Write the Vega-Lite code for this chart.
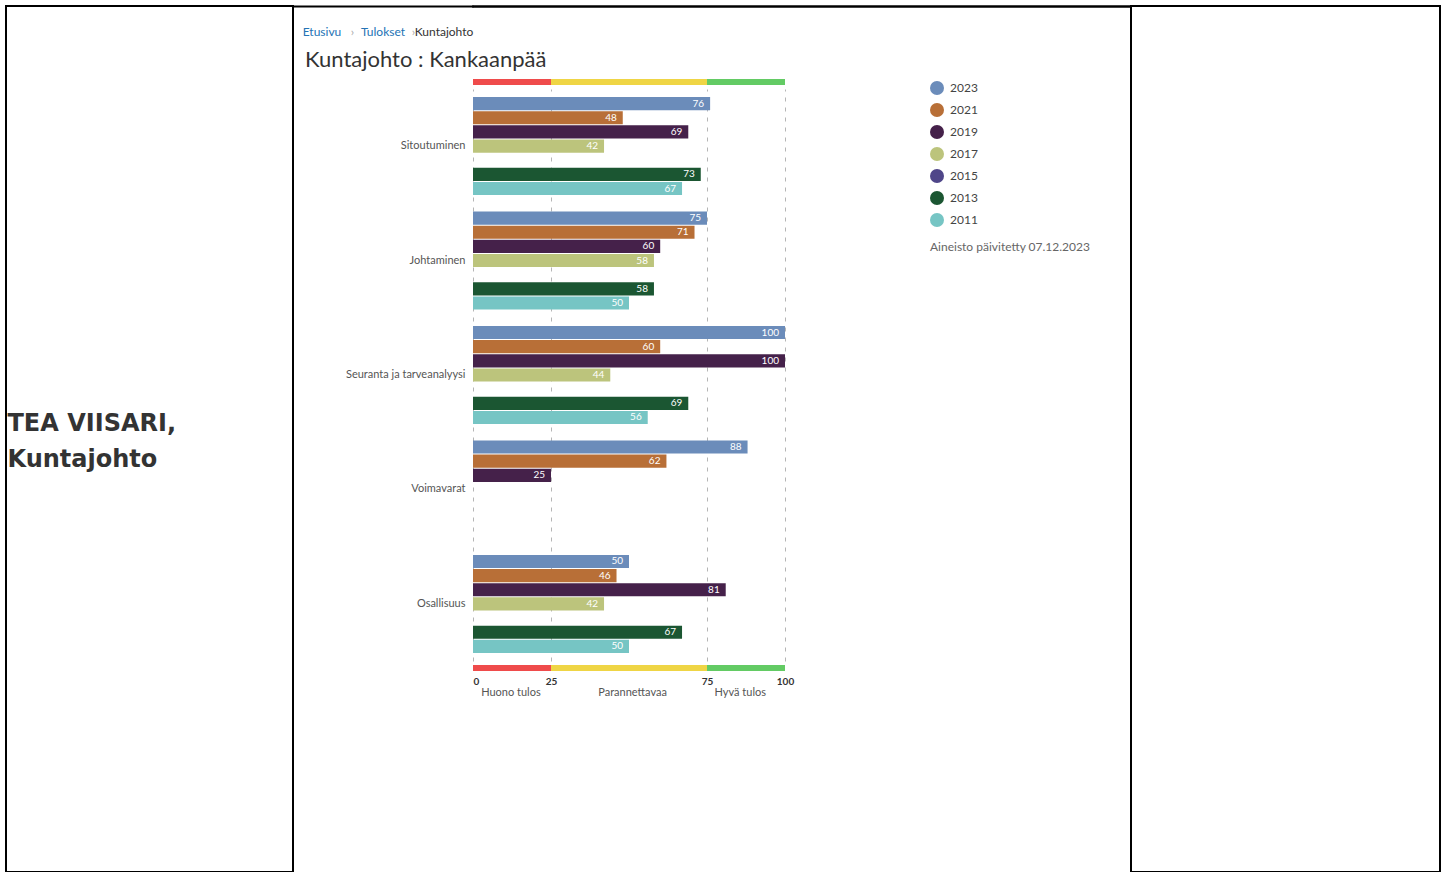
{
  "$schema": "https://vega.github.io/schema/vega-lite/v6.json",
  "padding": {"left": 5, "top": 5, "right": 0, "bottom": 0},
  "background": "white",
  "config": {"font": "Lato", "view": {"stroke": null}},
  "datasets": {
    "scores": [
      {"category": "Sitoutuminen", "year": "2023", "value": 76},
      {"category": "Sitoutuminen", "year": "2021", "value": 48},
      {"category": "Sitoutuminen", "year": "2019", "value": 69},
      {"category": "Sitoutuminen", "year": "2017", "value": 42},
      {"category": "Sitoutuminen", "year": "2013", "value": 73},
      {"category": "Sitoutuminen", "year": "2011", "value": 67},
      {"category": "Johtaminen", "year": "2023", "value": 75},
      {"category": "Johtaminen", "year": "2021", "value": 71},
      {"category": "Johtaminen", "year": "2019", "value": 60},
      {"category": "Johtaminen", "year": "2017", "value": 58},
      {"category": "Johtaminen", "year": "2013", "value": 58},
      {"category": "Johtaminen", "year": "2011", "value": 50},
      {"category": "Seuranta ja tarveanalyysi", "year": "2023", "value": 100},
      {"category": "Seuranta ja tarveanalyysi", "year": "2021", "value": 60},
      {"category": "Seuranta ja tarveanalyysi", "year": "2019", "value": 100},
      {"category": "Seuranta ja tarveanalyysi", "year": "2017", "value": 44},
      {"category": "Seuranta ja tarveanalyysi", "year": "2013", "value": 69},
      {"category": "Seuranta ja tarveanalyysi", "year": "2011", "value": 56},
      {"category": "Voimavarat", "year": "2023", "value": 88},
      {"category": "Voimavarat", "year": "2021", "value": 62},
      {"category": "Voimavarat", "year": "2019", "value": 25},
      {"category": "Osallisuus", "year": "2023", "value": 50},
      {"category": "Osallisuus", "year": "2021", "value": 46},
      {"category": "Osallisuus", "year": "2019", "value": 81},
      {"category": "Osallisuus", "year": "2017", "value": 42},
      {"category": "Osallisuus", "year": "2013", "value": 67},
      {"category": "Osallisuus", "year": "2011", "value": 50}
    ],
    "zones": [
      {"zone": "Huono tulos", "start": 0, "end": 25},
      {"zone": "Parannettavaa", "start": 25, "end": 75},
      {"zone": "Hyvä tulos", "start": 75, "end": 100}
    ],
    "crumbs": [
      {"crumb": "Etusivu", "step": 1, "kind": "link"},
      {"crumb": "›", "step": 2, "kind": "separator"},
      {"crumb": "Tulokset", "step": 3, "kind": "link"},
      {"crumb": "›", "step": 4, "kind": "separator"},
      {"crumb": "Kuntajohto", "step": 5, "kind": "current"}
    ],
    "heading": [
      {"text": "TEA VIISARI,\nKuntajohto"}
    ]
  },
  "spacing": 0,
  "bounds": "flush",
  "resolve": {"scale": {"color": "independent", "x": "independent", "y": "independent"}},
  "hconcat": [
    {
      "width": 287,
      "height": 866,
      "view": {"stroke": "#000", "strokeWidth": 2},
      "data": {"name": "heading"},
      "mark": {"type": "text", "font": "DejaVu Sans", "fontSize": 24, "fontWeight": "bold", "lineHeight": 36, "lineBreak": "\n", "align": "left", "baseline": "middle", "dx": -142, "dy": -15, "color": "#333"},
      "encoding": {"text": {"field": "text"}}
    },
    {
      "width": 180,
      "height": 42,
      "data": {"name": "crumbs"},
      "title": {"text": "Kuntajohto : Kankaanpää", "orient": "bottom", "anchor": "start", "frame": "group", "dx": 12, "offset": 2, "fontSize": 22, "fontWeight": "normal", "color": "#333", "font": "Lato"},
      "mark": {"type": "text", "baseline": "top", "fontSize": 12, "font": "Lato"},
      "encoding": {
        "x": {"field": "step", "type": "ordinal", "scale": {"type": "point", "padding": 0.95}, "axis": {"orient": "top", "labels": false, "ticks": false, "grid": false, "domain": true, "domainColor": "#000", "domainWidth": 2, "title": null}},
        "text": {"field": "crumb"},
        "color": {"condition": [{"test": "datum.kind == 'link'", "value": "#2473b5"}, {"test": "datum.kind == 'separator'", "value": "#aaaaaa"}], "value": "#333333"}
      }
    },
    {
      "spacing": 4,
      "bounds": "flush",
      "resolve": {"scale": {"x": "independent", "color": "independent"}},
      "vconcat": [
        {"width": 312, "height": 69, "mark": {"type": "text", "text": ""}},
        {
          "width": 312,
          "height": 6,
          "data": {"name": "zones"},
          "mark": {"type": "rect"},
          "encoding": {
            "x": {"field": "start", "type": "quantitative", "scale": {"domain": [0, 100], "nice": false, "zero": false}, "axis": null},
            "x2": {"field": "end"},
            "color": {"field": "zone", "type": "nominal", "scale": {"domain": ["Huono tulos", "Parannettavaa", "Hyvä tulos"], "range": ["#ef4b4b", "#efd545", "#63cb64"]}, "legend": null}
          }
        },
        {
          "width": 312,
          "height": 572,
          "data": {"name": "scores"},
          "encoding": {
            "y": {"field": "category", "type": "nominal", "scale": {"domain": ["Sitoutuminen", "Johtaminen", "Seuranta ja tarveanalyysi", "Voimavarat", "Osallisuus"], "paddingInner": 0.143, "paddingOuter": 0.07}, "axis": {"title": null, "ticks": false, "domain": false, "labelFontSize": 11, "labelColor": "#555", "labelPadding": 8, "labelFont": "Lato"}},
            "yOffset": {"field": "year", "type": "nominal", "scale": {"domain": ["2023", "2021", "2019", "2017", "2015", "2013", "2011"], "paddingInner": 0.07, "paddingOuter": 0}},
            "x": {"field": "value", "type": "quantitative", "scale": {"domain": [0, 100], "nice": false}, "axis": {"values": [0, 25, 75, 100], "labels": false, "ticks": false, "domain": false, "title": null, "grid": true, "gridDash": [4, 6], "gridColor": "#b5b5b5", "gridWidth": 1}}
          },
          "layer": [
            {
              "mark": {"type": "bar"},
              "encoding": {
                "color": {"field": "year", "type": "nominal", "scale": {"domain": ["2023", "2021", "2019", "2017", "2015", "2013", "2011"], "range": ["#6b8cba", "#b86f37", "#45214a", "#bcc47c", "#4f4689", "#1b5632", "#76c5c4"]},
                  "legend": {"orient": "none", "legendX": 457, "legendY": -8, "title": "Aineisto päivitetty 07.12.2023", "titleOrient": "bottom", "titleAnchor": "start", "titleFontSize": 12, "titleFontWeight": "normal", "titleColor": "#666", "titlePadding": 15, "titleFont": "Lato", "symbolType": "circle", "symbolSize": 196, "symbolStrokeWidth": 0, "labelFontSize": 12, "labelColor": "#444", "labelFont": "Lato", "labelOffset": 6, "rowPadding": 8, "padding": 0}}
              }
            },
            {
              "mark": {"type": "text", "align": "right", "baseline": "middle", "dx": -6, "fontSize": 10, "color": "#ffffff", "font": "Lato"},
              "encoding": {"text": {"field": "value", "type": "quantitative"}}
            }
          ]
        },
        {
          "width": 312,
          "height": 6,
          "data": {"name": "zones"},
          "mark": {"type": "rect"},
          "encoding": {
            "x": {"field": "start", "type": "quantitative", "scale": {"domain": [0, 100], "nice": false, "zero": false},
              "axis": {"orient": "bottom", "values": [0, 12, 25, 51, 75, 85.5, 100],
                "labelExpr": "datum.value == 12 ? ['', 'Huono tulos'] : datum.value == 51 ? ['', 'Parannettavaa'] : datum.value == 85.5 ? ['', 'Hyvä tulos'] : datum.label",
                "labelOverlap": false, "labelFlush": false, "labelBound": false, "ticks": false, "domain": false, "grid": false, "title": null, "labelPadding": 5, "labelLineHeight": 10, "labelFont": "Lato",
                "labelAlign": {"condition": {"test": "datum.value == 0", "value": "left"}, "value": "center"},
                "labelFontSize": {"condition": {"test": "datum.value == 12 || datum.value == 51 || datum.value == 85.5", "value": 11}, "value": 10},
                "labelColor": {"condition": {"test": "datum.value == 12 || datum.value == 51 || datum.value == 85.5", "value": "#555555"}, "value": "#333333"},
                "labelFontWeight": {"condition": {"test": "datum.value == 12 || datum.value == 51 || datum.value == 85.5", "value": "normal"}, "value": "bold"}}},
            "x2": {"field": "end"},
            "color": {"field": "zone", "type": "nominal", "scale": {"domain": ["Huono tulos", "Parannettavaa", "Hyvä tulos"], "range": ["#ef4b4b", "#efd545", "#63cb64"]}, "legend": null}
          }
        }
      ]
    },
    {
      "width": 658,
      "height": 1,
      "view": {"stroke": "#000", "strokeWidth": 1.5},
      "mark": {"type": "text", "text": ""}
    },
    {
      "width": 309,
      "height": 866,
      "view": {"stroke": "#000", "strokeWidth": 2},
      "mark": {"type": "text", "text": ""}
    }
  ]
}
